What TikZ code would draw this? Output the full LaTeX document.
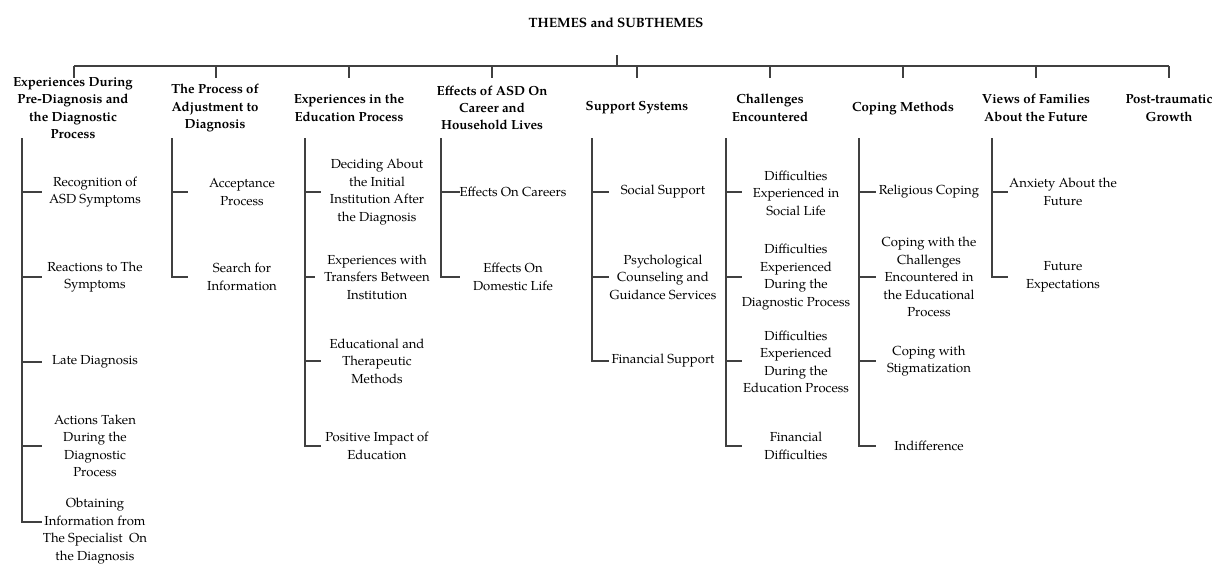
\documentclass[tikz,border=0pt]{standalone}
\usepackage{fontspec}
\setmainfont{TeX Gyre Pagella}
\tikzset{
  link/.style={draw=black!75, line width=1.4pt},
  bar/.style={draw=black!75, line width=1.7pt},
  heading/.style={align=center, inner sep=0pt, font=\bfseries\fontsize{13.5}{17.2}\selectfont},
  theme/.style={align=center, inner sep=0pt, font=\bfseries\fontsize{13.2}{17.3}\selectfont},
  subtheme/.style={align=center, inner sep=0pt, font=\fontsize{13.1}{17.4}\selectfont},
}
\begin{document}
\begin{tikzpicture}[x=1pt,y=-1pt]
\useasboundingbox (0,0) rectangle (1217,563);

% root and main bar
\node[heading] (root) at (616,23) {THEMES and SUBTHEMES};
\coordinate (stemtop) at (617,55);
\coordinate (stembot) at (617,66);
\coordinate (barL) at (74,66);
\coordinate (barR) at (1169,66);
\draw[bar] (barL) -- (barR);
\draw[link] (stemtop) -- (stembot);

% themes
\node[theme] (t1) at (73,108) {Experiences During\\Pre-Diagnosis and\\the Diagnostic\\Process};
\node[theme] (t2) at (215,108) {The Process of\\Adjustment to\\Diagnosis};
\node[theme] (t3) at (349,108) {Experiences in the\\Education Process};
\node[theme] (t4) at (492,108) {Effects of ASD On\\Career and\\Household Lives};
\node[theme] (t5) at (637,108) {Support Systems};
\node[theme] (t6) at (770,108) {Challenges\\Encountered};
\node[theme] (t7) at (903,108) {Coping Methods};
\node[theme] (t8) at (1036,108) {Views of Families\\About the Future};
\node[theme] (t9) at (1169,108) {Post-traumatic\\Growth};

% ticks from the bar down to each theme
\foreach \n/\x in {1/74,2/216,3/349,4/492,5/637,6/770,7/903,8/1036,9/1169}{
  \coordinate (k\n) at (\x,66);
  \coordinate (kb\n) at (\x,78);
  \draw[link] (k\n) -- (kb\n);
}

% column tops
\coordinate (c1) at (22,138);
\coordinate (c2) at (172,138);
\coordinate (c3) at (305,138);
\coordinate (c4) at (441,138);
\coordinate (c5) at (592,138);
\coordinate (c6) at (726,138);
\coordinate (c7) at (859,138);
\coordinate (c8) at (992,138);

% column 1
\node[subtheme] (s11) at (95,192) {Recognition of\\ASD Symptoms};
\node[subtheme] (s12) at (95,277) {Reactions to The\\Symptoms};
\node[subtheme] (s13) at (95,362) {Late Diagnosis};
\node[subtheme] (s14) at (95,446) {Actions Taken\\During the\\Diagnostic\\Process};
\node[subtheme] (s15) at (95,531) {Obtaining\\Information from\\The Specialist\ \ On\\the Diagnosis};
\coordinate (e11) at (42,192);
\coordinate (e12) at (42,277);
\coordinate (e13) at (42,362);
\coordinate (e14) at (42,446);
\coordinate (e15) at (42,522);

% column 2
\node[subtheme] (s21) at (242,192) {Acceptance\\Process};
\node[subtheme] (s22) at (242,277) {Search for\\Information};
\coordinate (e21) at (188,192);
\coordinate (e22) at (188,277);

% column 3
\node[subtheme] (s31) at (377,192) {Deciding About\\the Initial\\Institution After\\the Diagnosis};
\node[subtheme] (s32) at (377,277) {Experiences with\\Transfers Between\\Institution};
\node[subtheme] (s33) at (377,361) {Educational and\\Therapeutic\\Methods};
\node[subtheme] (s34) at (377,446) {Positive Impact of\\Education};
\coordinate (e31) at (321,192);
\coordinate (e32) at (315,277);
\coordinate (e33) at (321,361);
\coordinate (e34) at (321,446);

% column 4
\node[subtheme] (s41) at (513,192) {Effects On Careers};
\node[subtheme] (s42) at (513,277) {Effects On\\Domestic Life};
\coordinate (e41) at (460,192);
\coordinate (e42) at (460,277);

% column 5
\node[subtheme] (s51) at (663,192) {Social Support};
\node[subtheme] (s52) at (663,277) {Psychological\\Counseling and\\Guidance Services};
\node[subtheme] (s53) at (663,361) {Financial Support};
\coordinate (e51) at (609,192);
\coordinate (e52) at (609,277);
\coordinate (e53) at (609,361);

% column 6
\node[subtheme] (s61) at (796,193) {Difficulties\\Experienced in\\Social Life};
\node[subtheme] (s62) at (796,277) {Difficulties\\Experienced\\During the\\Diagnostic Process};
\node[subtheme] (s63) at (796,362) {Difficulties\\Experienced\\During the\\Education Process};
\node[subtheme] (s64) at (796,446) {Financial\\Difficulties};
\coordinate (e61) at (742,192);
\coordinate (e62) at (742,277);
\coordinate (e63) at (742,361);
\coordinate (e64) at (742,446);

% column 7
\node[subtheme] (s71) at (929,192) {Religious Coping};
\node[subtheme] (s72) at (929,277) {Coping with the\\Challenges\\Encountered in\\the Educational\\Process};
\node[subtheme] (s73) at (929,361) {Coping with\\Stigmatization};
\node[subtheme] (s74) at (929,446) {Indifference};
\coordinate (e71) at (876,192);
\coordinate (e72) at (876,277);
\coordinate (e73) at (876,361);
\coordinate (e74) at (876,446);

% column 8
\node[subtheme] (s81) at (1063,192) {Anxiety About the\\Future};
\node[subtheme] (s82) at (1063,277) {Future\\Expectations};
\coordinate (e81) at (1008,192);
\coordinate (e82) at (1008,277);

% tree connectors
\foreach \c/\list in {1/{1,2,3,4,5},2/{1,2},3/{1,2,3,4},4/{1,2},5/{1,2,3},6/{1,2,3,4},7/{1,2,3,4},8/{1,2}}{
  \foreach \j in \list {
    \draw[link] (c\c) |- (e\c\j);
  }
}
\end{tikzpicture}
\end{document}
